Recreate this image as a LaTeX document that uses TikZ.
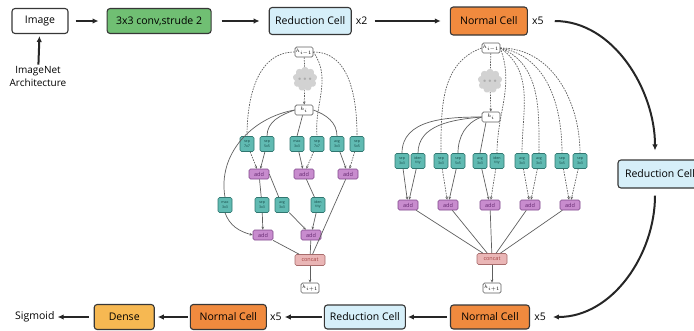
\documentclass[tikz,border=0pt]{standalone}
\usepackage{fontspec}
\setmainfont{Open Sans}
\usetikzlibrary{shapes.symbols, arrows.meta, positioning}
\definecolor{nasEdge}{RGB}{55, 55, 55}
\definecolor{nasConv}{RGB}{112, 191, 115}
\definecolor{nasBlue}{RGB}{214, 239, 249}
\definecolor{nasOrange}{RGB}{240, 138, 62}
\definecolor{nasDense}{RGB}{246, 184, 82}
\definecolor{opFill}{RGB}{96, 186, 178}
\definecolor{opEdge}{RGB}{48, 118, 112}
\definecolor{opText}{RGB}{20, 70, 68}
\definecolor{addFill}{RGB}{200, 140, 206}
\definecolor{addEdge}{RGB}{128, 70, 140}
\definecolor{addText}{RGB}{98, 38, 110}
\definecolor{catFill}{RGB}{234, 182, 182}
\definecolor{catEdge}{RGB}{168, 108, 108}
\definecolor{catText}{RGB}{165, 68, 68}
\definecolor{linkGray}{RGB}{95, 95, 95}

\begin{document}
\begin{tikzpicture}[
    x=1pt, y=-1pt,
    cellbox/.style={
        rectangle,
        rounded corners=3pt,
        draw=nasEdge,
        line width=1.1pt,
        minimum height=25pt,
        inner sep=2pt,
        font=\fontsize{10.5}{12}\selectfont
    },
    tag/.style={inner sep=1pt, font=\fontsize{10.5}{12}\selectfont},
    flow/.style={-{Latex[length=6pt,width=5.5pt]}, line width=2pt, draw=black!85},
    hbox/.style={
        rectangle,
        rounded corners=1.5pt,
        draw=linkGray,
        fill=white,
        line width=0.7pt,
        minimum width=18pt,
        minimum height=10pt,
        inner sep=0.5pt,
        font=\fontsize{4.5}{5}\selectfont
    },
    puff/.style={
        cloud,
        cloud puffs=9,
        fill=gray!35,
        draw=none,
        minimum width=19pt,
        minimum height=12pt,
        inner sep=0pt,
        text=gray!65,
        font=\fontsize{5}{5}\selectfont
    },
    opbox/.style={
        rectangle,
        rounded corners=1.5pt,
        draw=opEdge,
        fill=opFill,
        line width=0.6pt,
        minimum width=14pt,
        minimum height=15pt,
        inner sep=0.3pt,
        align=center,
        text=opText,
        font=\fontsize{3.6}{4.1}\selectfont
    },
    addbox/.style={
        rectangle,
        rounded corners=1.5pt,
        draw=addEdge,
        fill=addFill,
        line width=0.6pt,
        minimum width=20pt,
        minimum height=10pt,
        inner sep=0.5pt,
        text=addText,
        font=\fontsize{5.5}{5.5}\selectfont
    },
    catbox/.style={
        rectangle,
        rounded corners=1.5pt,
        draw=catEdge,
        fill=catFill,
        line width=0.6pt,
        minimum width=30pt,
        minimum height=11pt,
        inner sep=0.5pt,
        text=catText,
        font=\fontsize{5.5}{5.5}\selectfont
    },
    link/.style={draw=linkGray, line width=0.7pt},
    dlink/.style={link, dash pattern=on 1.6pt off 1.1pt},
    cellarr/.style={-{Stealth[length=3pt,width=2.6pt]}}
]
    \useasboundingbox (0,0) rectangle (694,330);

    \node[cellbox, minimum width=56pt] (image) at (40,21) {Image};
    \node[cellbox, fill=nasConv, minimum width=104pt, right=38pt of image] (conv) {3x3 conv,strude 2};
    \node[cellbox, fill=nasBlue, minimum width=82pt, minimum height=27pt, right=57pt of conv] (redtop) {Reduction Cell};
    \node[tag, right=3pt of redtop] (xtwo) {x2};
    \node[cellbox, fill=nasOrange, minimum width=77pt, minimum height=28pt, right=98pt of redtop] (normtop) {Normal Cell};
    \node[tag, right=3pt of normtop] (xfivetop) {x5};
    \node[tag, align=center, font=\fontsize{10}{13}\selectfont] (imnet) at (38,76) {ImageNet\\Architecture};

    \node[cellbox, fill=nasBlue, minimum width=84pt, minimum height=28pt] (redright) at (660,174) {Reduction Cell};

    \node[cellbox, fill=nasOrange, minimum width=79pt, minimum height=24pt] (normbot) at (490,317) {Normal Cell};
    \node[tag, right=3pt of normbot] (xfivebot) {x5};
    \node[cellbox, fill=nasBlue, minimum width=81pt, minimum height=24pt, left=44pt of normbot] (redbot) {Reduction Cell};
    \node[cellbox, fill=nasOrange, minimum width=76pt, minimum height=25pt, left=57pt of redbot] (normleft) {Normal Cell};
    \node[tag, right=2pt of normleft] (xfivemid) {x5};
    \node[cellbox, fill=nasDense, minimum width=60pt, left=35pt of normleft] (dense) {Dense};
    \node[tag, left=38pt of dense] (sigmoid) {Sigmoid};

    \draw[flow, shorten >=2pt] (imnet) -- (image);
    \draw[flow, shorten <=7pt, shorten >=8pt] (image) -- (conv);
    \draw[flow, shorten <=10pt, shorten >=9pt] (conv) -- (redtop);
    \draw[flow, shorten <=6pt, shorten >=9pt] (xtwo) -- (normtop);
    \draw[flow, shorten <=10pt, shorten >=9pt] (xfivetop.east) to[out=0,in=90] ([xshift=-5pt]redright.north);
    \draw[flow, shorten <=7pt, shorten >=6pt] ([xshift=-5pt]redright.south) to[out=-90,in=0] (xfivebot.east);
    \draw[flow, shorten <=3pt, shorten >=2pt] (normbot) -- (redbot);
    \draw[flow, shorten <=2pt, shorten >=2pt] (redbot) -- (xfivemid);
    \draw[flow, shorten <=2pt, shorten >=3pt] (normleft) -- (dense);
    \draw[flow, shorten <=5pt, shorten >=2pt] (dense) -- (sigmoid);

    \node[hbox] (rprev) at (304,52) {$h_{i-1}$};
    \node[puff] (rcloud) at (305,79) {$\bullet\bullet\bullet$};
    \node[hbox] (rcur) at (304,110) {$h_i$};
    \node[opbox] (rop1) at (247,144) {sep\\7x7};
    \node[opbox] (rop2) at (267,144) {sep\\5x5};
    \node[opbox] (rop3) at (297,144) {max\\3x3};
    \node[opbox] (rop4) at (317,144) {sep\\7x7};
    \node[opbox] (rop5) at (337,144) {avg\\3x3};
    \node[opbox] (rop6) at (357,144) {sep\\5x5};
    \node[addbox] (radd1) at (259,174) {add};
    \node[addbox] (radd2) at (304,174) {add};
    \node[addbox] (radd3) at (348,174) {add};
    \node[opbox] (rop7) at (225,205) {max\\3x3};
    \node[opbox] (rop8) at (262,205) {sep\\3x3};
    \node[opbox] (rop9) at (282,205) {avg\\3x3};
    \node[opbox] (rop10) at (318,205) {iden\\tity};
    \node[addbox] (radd4) at (263,235) {add};
    \node[addbox] (radd5) at (311,235) {add};
    \node[catbox] (rconcat) at (310,260) {concat};
    \node[hbox] (rnext) at (310,288) {$h_{i+1}$};

    \draw[dlink] (rprev) -- (rcloud);
    \draw[dlink, cellarr] (rcloud) -- (rcur);
    \draw[dlink] (rprev.west) to[out=180,in=90] (rop1.north);
    \draw[dlink] (rprev.east) to[out=-55,in=95] (rop4.north);
    \draw[dlink] (rprev.east) to[out=0,in=90] (rop6.north);
    \draw[link] (rcur.west) to[out=200,in=90] (rop2.north);
    \draw[link] (rcur) -- (rop3.north);
    \draw[link] (rcur.east) to[out=-20,in=90] (rop5.north);
    \draw[link] (rcur.west) to[out=190,in=100] (rop7.north);
    \draw[dlink, cellarr] (rop1) -- (radd1);
    \draw[link, cellarr] (rop2) -- (radd1);
    \draw[link, cellarr] (rop3) -- (radd2);
    \draw[dlink, cellarr] (rop4) -- (radd2);
    \draw[link, cellarr] (rop5) -- (radd3);
    \draw[dlink, cellarr] (rop6) -- (radd3);
    \draw[link] (radd1) -- (rop8);
    \draw[link] (radd1.east) -- (rop9);
    \draw[link] (radd2) -- (rop10);
    \draw[link, cellarr] (rop7.south) to[out=-70,in=165] (radd4.west);
    \draw[link, cellarr] (rop8) -- (radd4);
    \draw[link, cellarr] (rop9) -- (radd5);
    \draw[link, cellarr] (rop10) -- (radd5);
    \draw[link] (radd4) -- (rconcat);
    \draw[link] (radd5) -- (rconcat);
    \draw[link] (radd3) -- (rconcat);
    \draw[link, cellarr] (rconcat) -- (rnext);

    \node[hbox] (nprev) at (491,48) {$h_{i-1}$};
    \node[puff] (ncloud) at (490,81) {$\bullet\bullet\bullet$};
    \node[hbox] (ncur) at (491,117) {$h_i$};
    \node[opbox] (nop1) at (402,161) {sep\\3x3};
    \node[opbox] (nop2) at (418,161) {iden\\tity};
    \node[opbox] (nop3) at (441,161) {sep\\3x3};
    \node[opbox] (nop4) at (458,161) {sep\\5x5};
    \node[opbox] (nop5) at (480,161) {avg\\3x3};
    \node[opbox] (nop6) at (497,161) {iden\\tity};
    \node[opbox] (nop7) at (522,161) {avg\\3x3};
    \node[opbox] (nop8) at (539,161) {avg\\3x3};
    \node[opbox] (nop9) at (562,161) {sep\\5x5};
    \node[opbox] (nop10) at (580,161) {sep\\3x3};
    \node[addbox] (nadd1) at (408,205) {add};
    \node[addbox] (nadd2) at (448,205) {add};
    \node[addbox] (nadd3) at (490,205) {add};
    \node[addbox] (nadd4) at (530,205) {add};
    \node[addbox] (nadd5) at (570,205) {add};
    \node[catbox] (nconcat) at (492,259) {concat};
    \node[hbox] (nnext) at (492,288) {$h_{i+1}$};

    \draw[dlink] (nprev) -- (ncloud);
    \draw[dlink, cellarr] (ncloud) -- (ncur);
    \draw[link] (ncur.west) to[out=180,in=90] (nop1.north);
    \draw[link] (ncur.west) to[out=185,in=90] (nop2.north);
    \draw[link] (ncur.west) to[out=200,in=90] (nop4.north);
    \draw[link] ([xshift=-5pt]ncur.south) -- (nop5.north);
    \draw[dlink] (nprev.west) to[out=200,in=90] (nop3.north);
    \draw[dlink] (nprev.east) to[out=-70,in=90] (nop6.north);
    \draw[dlink] (nprev.east) to[out=-35,in=90] (nop7.north);
    \draw[dlink] (nprev.east) to[out=-22,in=90] (nop8.north);
    \draw[dlink] (nprev.east) to[out=-10,in=90] (nop9.north);
    \draw[dlink] (nprev.east) to[out=0,in=90] (nop10.north);
    \draw[link, cellarr] (nop1) -- (nadd1);
    \draw[link, cellarr] (nop2) -- (nadd1);
    \draw[dlink, cellarr] (nop3) -- (nadd2);
    \draw[link, cellarr] (nop4) -- (nadd2);
    \draw[link, cellarr] (nop5) -- (nadd3);
    \draw[dlink, cellarr] (nop6) -- (nadd3);
    \draw[dlink, cellarr] (nop7) -- (nadd4);
    \draw[dlink, cellarr] (nop8) -- (nadd4);
    \draw[dlink, cellarr] (nop9) -- (nadd5);
    \draw[dlink, cellarr] (nop10) -- (nadd5);
    \draw[link] (nadd1) -- (nconcat);
    \draw[link] (nadd2) -- (nconcat);
    \draw[link] (nadd3) -- (nconcat);
    \draw[link] (nadd4) -- (nconcat);
    \draw[link] (nadd5) -- (nconcat);
    \draw[link, cellarr] (nconcat) -- (nnext);

\end{tikzpicture}
\end{document}
